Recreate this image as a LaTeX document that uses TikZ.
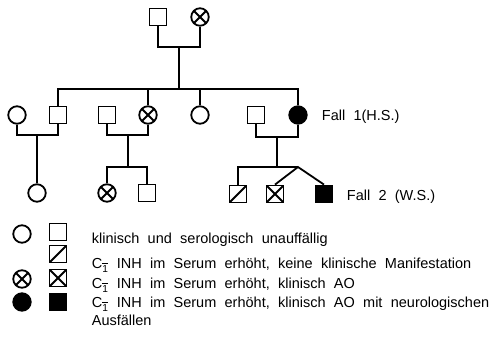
\documentclass[tikz,border=0pt]{standalone}
\usepackage{fontspec}
\setmainfont{Liberation Sans}
\usetikzlibrary{calc}
\newcommand{\notefont}{\fontsize{14.5}{18}\selectfont\spaceskip=8.3pt plus 1pt\relax}
\newcommand{\cone}{C\textsubscript{1\llap{\rule[0.8em]{0.55em}{0.09em}}}}

\begin{document}
\begin{tikzpicture}[
    x=1pt, y=-1pt,
    line width=1.8pt,
    every node/.style={inner sep=0pt},
    male/.style={rectangle, draw, minimum size=17pt},
    female/.style={circle, draw, minimum size=17.5pt},
    crossed/.style={path picture={
        \draw[line width=1.8pt] (path picture bounding box.north west) -- (path picture bounding box.south east)
              (path picture bounding box.south west) -- (path picture bounding box.north east);}},
    slashed/.style={path picture={
        \draw[line width=1.8pt] (path picture bounding box.south west) -- (path picture bounding box.north east);}},
    affected/.style={fill=black},
    note/.style={font=\notefont, anchor=base west}
  ]
  \useasboundingbox (0,0) rectangle (493,340);

  % generation I
  \node[male] (i1) at (158,17) {};
  \node[female, crossed] (i2) at (200,17) {};

  % generation II
  \node[female] (ii1) at (17,115) {};
  \node[male] (ii2) at (58,115) {};
  \node[male] (ii3) at (107,115) {};
  \node[female, crossed] (ii4) at (148,115) {};
  \node[female] (ii5) at (200,115) {};
  \node[male] (ii6) at (256,115) {};
  \node[female, affected] (ii7) at (298,115) {};
  \node[note] (fall1) at (321,120) {Fall 1(H.S.)};

  % generation III
  \node[female] (iii1) at (37,193) {};
  \node[female, crossed] (iii2) at (107,193) {};
  \node[male] (iii3) at (147,193) {};
  \node[male, slashed] (iii4) at (238,194) {};
  \node[male, crossed] (iii5) at (275,194) {};
  \node[male, affected] (iii6) at (324,194) {};
  \node[note] (fall2) at (346,200) {Fall 2 (W.S.)};

  % lines
  \coordinate (u1) at (179,47);
  \coordinate (s1) at (179,89);
  \draw (i1.south) |- (u1) -| (i2.south);
  \draw (u1) -- (s1);
  \draw (ii2.north) |- (s1) -| (ii7.north);
  \draw (ii4.north) -- (ii4 |- s1);
  \draw (ii5.north) -- (ii5 |- s1);

  \coordinate (u2) at (37,135);
  \draw (ii1.south) |- (u2) -| (ii2.south);
  \draw (u2) -- (iii1.north);

  \coordinate (u3) at (128,135);
  \coordinate (s3) at (128,167);
  \draw (ii3.south) |- (u3) -| (ii4.south);
  \draw (u3) -- (s3);
  \draw (iii2.north) |- (s3) -| (iii3.north);

  \coordinate (u4) at (277,137);
  \coordinate (s4) at (277,167);
  \coordinate (tw) at (298,167);
  \draw (ii6.south) |- (u4) -| (ii7.south);
  \draw (u4) -- (s4);
  \draw (iii4.north) |- (tw);
  \draw (iii5.north) -- (tw) -- (iii6.north);

  % legend
  \node[female] (k1) at (22,234) {};
  \node[male] (k2) at (58,232) {};
  \node[male, slashed] (k3) at (58,254) {};
  \node[female, crossed] (k4) at (22,279) {};
  \node[male, crossed] (k5) at (58,278) {};
  \node[female, affected] (k6) at (22,302) {};
  \node[male, affected] (k7) at (58,302) {};

  \node[note] (t1) at (91,243) {klinisch und serologisch unauffällig};
  \node[note] (t2) at (91,268) {\cone{} INH im Serum erhöht, keine klinische Manifestation};
  \node[note] (t3) at (91,288) {\cone{} INH im Serum erhöht, klinisch AO};
  \node[note] (t4) at (91,307) {\cone{} INH im Serum erhöht, klinisch AO mit neurologischen};
  \node[note] (t5) at (91,325) {Ausfällen};
\end{tikzpicture}
\end{document}
